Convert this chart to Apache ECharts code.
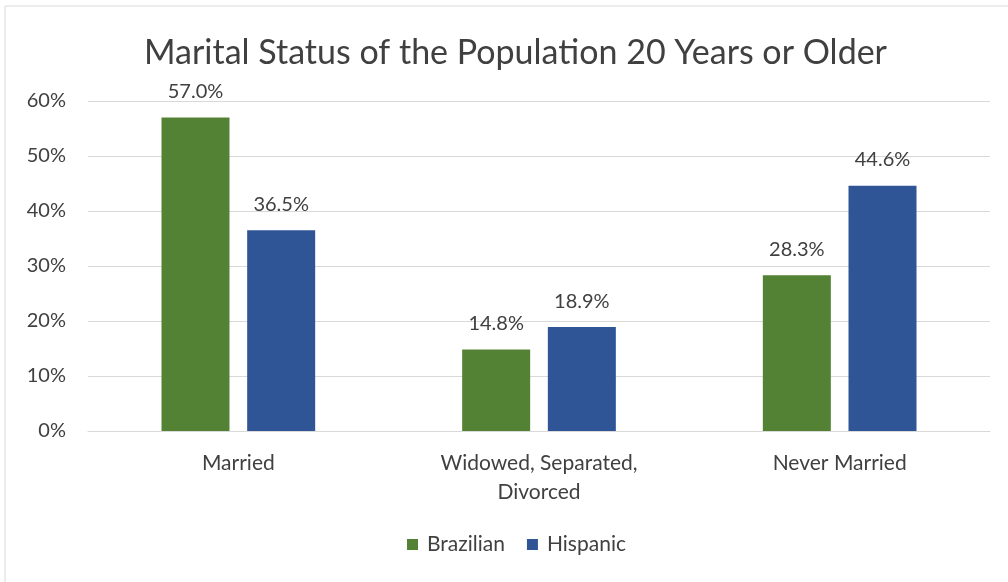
<!DOCTYPE html>
<html>
<head>
<meta charset="utf-8">
<script src="https://cdn.jsdelivr.net/npm/echarts@6/dist/echarts.min.js"></script>
<style>html,body{margin:0;padding:0;background:#fff}#c{width:1008px;height:582px}</style>
</head>
<body>
<div id="c"></div>
<script>
const categories = ['Married', 'Widowed, Separated,\nDivorced', 'Never Married'];
const brazilian = [57.0, 14.8, 28.3];
const hispanic = [36.5, 18.9, 44.6];
const seriesNames = ['Brazilian', 'Hispanic'];
const titleText = 'Marital Status of the Population 20 Years or Older';

const font = 'Lato, "Open Sans", sans-serif';
const chart = echarts.init(document.getElementById('c'), null, {renderer: 'canvas'});
const labelCfg = {
  show: true, position: 'top', distance: 16,
  formatter: p => p.value.toFixed(1) + '%',
  color: '#404040', fontSize: 20, fontFamily: font
};
chart.setOption({
  backgroundColor: '#fff',
  animation: false,
  graphic: [{
    type: 'rect', shape: {x: 5, y: 6, width: 1010, height: 590},
    style: {fill: 'none', stroke: '#d9d9d9', lineWidth: 1}, silent: true, z: -1
  }],
  title: {
    text: titleText, left: 139, top: 31,
    textStyle: {color: '#404040', fontSize: 34, fontWeight: 'normal', fontFamily: font}
  },
  legend: {
    data: seriesNames, bottom: 22, left: 402,
    itemWidth: 11, itemHeight: 11, itemGap: 22,
    icon: 'rect',
    textStyle: {color: '#404040', fontSize: 21, fontFamily: font, padding: [0, 0, 0, 4]}
  },
  grid: {left: 88, right: 18, top: 101, bottom: 151, containLabel: false},
  xAxis: {
    type: 'category', data: categories,
    axisLine: {lineStyle: {color: '#d9d9d9'}},
    axisTick: {show: false},
    axisLabel: {color: '#404040', fontSize: 21, fontFamily: font, margin: 18, lineHeight: 29}
  },
  yAxis: {
    type: 'value', min: 0, max: 60, interval: 10,
    axisLabel: {formatter: '{value}%', color: '#404040', fontSize: 20, fontFamily: font, margin: 22},
    splitLine: {lineStyle: {color: '#d9d9d9'}},
    axisLine: {show: false}, axisTick: {show: false}
  },
  series: [
    {name: seriesNames[0], type: 'bar', data: brazilian, barWidth: 68, barGap: '26%',
     itemStyle: {color: '#548235'}, label: labelCfg},
    {name: seriesNames[1], type: 'bar', data: hispanic, barWidth: 68,
     itemStyle: {color: '#2F5597'}, label: labelCfg}
  ]
});
</script>
</body>
</html>
